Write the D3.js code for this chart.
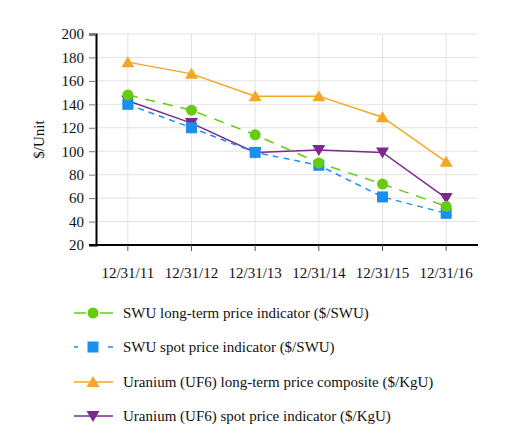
<!DOCTYPE html>
<html><head><meta charset="utf-8">
<script src="https://cdn.jsdelivr.net/npm/d3@7"></script>
</head><body style="margin:0"><svg id="c" width="512" height="438"></svg>
<script>
const categories = ["12/31/11","12/31/12","12/31/13","12/31/14","12/31/15","12/31/16"];
const yTicks = [20,40,60,80,100,120,140,160,180,200];
const swuLongTerm = [148,135,114,90,72,53];
const swuSpot = [140,120,99,88,61,47];
const uraniumLongTerm = [176,166,147,147,129,91];
const uraniumSpot = [143,124,99,101,99,60];
const seriesNames = [
  "SWU long-term price indicator ($/SWU)",
  "SWU spot price indicator ($/SWU)",
  "Uranium (UF6) long-term price composite ($/KgU)",
  "Uranium (UF6) spot price indicator ($/KgU)"
];
const FONT = "Liberation Serif";

const series = [
  {name: seriesNames[0], values: swuLongTerm, color: "#66cc11", dash: "10,8", sym: "circle"},
  {name: seriesNames[1], values: swuSpot, color: "#1a8ff0", dash: "6,5", sym: "square"},
  {name: seriesNames[2], values: uraniumLongTerm, color: "#f5a623", dash: null, sym: "up"},
  {name: seriesNames[3], values: uraniumSpot, color: "#7b2a8c", dash: null, sym: "down"}
];

const svg = d3.select("#c");
const L = 96, R = 478, T = 34, B = 245;
const x = d3.scaleBand().domain(categories).range([L, R]);
const xc = d => x(d) + x.bandwidth()/2;
const y = d3.scaleLinear().domain([20,200]).range([B, T]);

svg.append("g").selectAll("line").data(yTicks).join("line")
  .attr("x1", L).attr("x2", R).attr("y1", d=>y(d)).attr("y2", d=>y(d))
  .attr("stroke", "#e3e3e3").attr("stroke-width", 1);
svg.append("g").selectAll("line").data(categories).join("line")
  .attr("x1", d=>xc(d)).attr("x2", d=>xc(d)).attr("y1", T).attr("y2", B)
  .attr("stroke", "#e3e3e3").attr("stroke-width", 1);

const ya = svg.append("g").attr("transform", `translate(${L},0)`)
  .call(d3.axisLeft(y).tickValues(yTicks).tickSize(7).tickPadding(5));
ya.attr("font-family", null).attr("font-size", null);
ya.select(".domain").attr("stroke", "#000").attr("stroke-width", 2);
ya.selectAll(".tick line").attr("stroke", "#777");
ya.selectAll("text").attr("font-family", FONT).attr("font-size", 15).attr("fill", "#111");

const xa = svg.append("g").attr("transform", `translate(0,${B})`)
  .call(d3.axisBottom(x).tickSize(6).tickPadding(16).tickSizeOuter(0));
xa.attr("font-family", null).attr("font-size", null);
xa.select(".domain").attr("stroke", "#000").attr("stroke-width", 2).attr("d", `M${L-7},0H${R}`);
xa.selectAll(".tick line").attr("stroke", "#555");
xa.selectAll("text").attr("font-family", FONT).attr("font-size", 15).attr("fill", "#111");

svg.append("text").attr("transform", `translate(44,${(T+B)/2}) rotate(-90)`)
  .attr("text-anchor", "middle").attr("font-family", FONT).attr("font-size", 15).attr("fill", "#111").text("$/Unit");

function marker(g, sym, color, cx, cy) {
  if (sym === "circle") g.append("circle").attr("cx", cx).attr("cy", cy).attr("r", 5.5).attr("fill", color);
  else if (sym === "square") g.append("rect").attr("x", cx-5.5).attr("y", cy-5.5).attr("width", 11).attr("height", 11).attr("fill", color);
  else if (sym === "up") g.append("path").attr("d", `M${cx},${cy-6}L${cx+6.5},${cy+5}L${cx-6.5},${cy+5}Z`).attr("fill", color);
  else g.append("path").attr("d", `M${cx},${cy+6}L${cx+6.5},${cy-5}L${cx-6.5},${cy-5}Z`).attr("fill", color);
}

const line = d3.line().x((d,i)=>xc(categories[i])).y(d=>y(d));
[3,2,1,0].forEach(k => {
  const s = series[k];
  const g = svg.append("g");
  g.append("path").attr("d", line(s.values)).attr("fill", "none")
    .attr("stroke", s.color).attr("stroke-width", 1.5)
    .attr("stroke-dasharray", s.dash);
  s.values.forEach((v,i) => marker(g, s.sym, s.color, xc(categories[i]), y(v)));
});

const legY = [313, 347, 382, 416];
series.forEach((s, i) => {
  const g = svg.append("g");
  const ly = legY[i];
  if (s.dash) {
    const segs = s.sym === "circle" ? [[74,86],[100,113]] : [[74,78],[108,113]];
    segs.forEach(p => g.append("line").attr("x1", p[0]).attr("x2", p[1]).attr("y1", ly).attr("y2", ly).attr("stroke", s.color).attr("stroke-width", 1.5));
  } else {
    g.append("line").attr("x1", 74).attr("x2", 113).attr("y1", ly).attr("y2", ly).attr("stroke", s.color).attr("stroke-width", 1.5);
  }
  marker(g, s.sym, s.color, 93, ly);
  g.append("text").attr("x", 123).attr("y", ly + 5)
    .attr("font-family", FONT).attr("font-size", 15).attr("fill", "#111").text(s.name);
});
</script></body></html>
